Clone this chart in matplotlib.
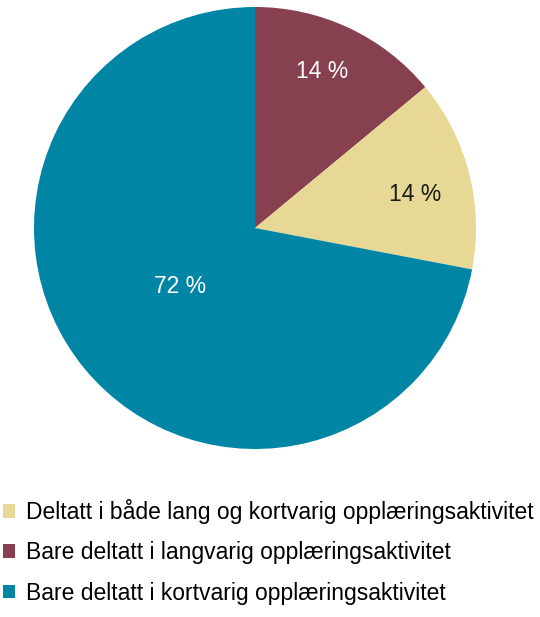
import matplotlib.pyplot as plt
from matplotlib.patches import Patch
import numpy as np

plt.rcParams['font.family'] = ['Liberation Sans', 'DejaVu Sans']

# data, clockwise from top
categories = ["Bare deltatt i langvarig opplæringsaktivitet",
              "Deltatt i både lang og kortvarig opplæringsaktivitet",
              "Bare deltatt i kortvarig opplæringsaktivitet"]
values = [14, 14, 72]
labels = ["14 %", "14 %", "72 %"]
colors = ["#86404f", "#e8d896", "#0085a4"]
label_colors = ["white", "#1a1a1a", "white"]
label_dist = [0.77, 0.74, 0.43]
label_shift = [2, -2.5, -1.5]  # degrees, nudge off the slice middle
legend_order = [1, 0, 2]

fig = plt.figure(figsize=(5.4, 6.17), dpi=100)
ax = fig.add_axes([34/540, 1-449/617, 442/540, 442/617])
wedges, _ = ax.pie(values, colors=colors, startangle=90, counterclock=False,
                   radius=1.0, wedgeprops=dict(linewidth=0))
for w, lab, c, d, s in zip(wedges, labels, label_colors, label_dist, label_shift):
    ang = np.deg2rad((w.theta1 + w.theta2)/2 + s)
    ax.text(d*np.cos(ang), d*np.sin(ang), lab, color=c, fontsize=16.5,
            ha="center", va="center")
ax.set_xlim(-1, 1)
ax.set_ylim(-1, 1)
ax.set_aspect("equal")
ax.axis("off")

handles = [Patch(facecolor=colors[i], edgecolor="none") for i in legend_order]
names = [categories[i] for i in legend_order]
fig.legend(handles, names, loc="upper left", bbox_to_anchor=(-0.012, 1-490/617),
           frameon=False, fontsize=16.5, handlelength=0.55, handleheight=0.55,
           handletextpad=0.45, labelspacing=0.75, borderaxespad=0)

fig.savefig("out.png", dpi=100)
